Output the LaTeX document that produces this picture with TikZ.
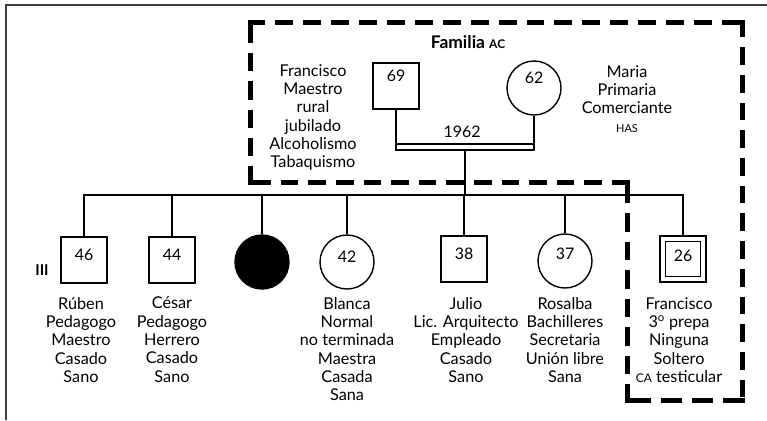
\documentclass[tikz,border=0pt]{standalone}
\usepackage{fontspec}
\setmainfont{Lato}
\usetikzlibrary{calc}
\begin{document}
\begin{tikzpicture}[x=1bp,y=-1bp,
  lw/.style={line width=1.4bp},
  male/.style={draw,lw,minimum size=46bp,inner sep=0pt},
  female/.style={draw,lw,circle,minimum size=54bp,inner sep=0pt},
  num/.style={font=\fontsize{16}{18}\selectfont,inner sep=0pt},
  lbl/.style={align=center,inner sep=0pt,anchor=north,font=\fontsize{16.3}{18.4}\selectfont},
  fam/.style={line width=5bp,line cap=rect}]
\useasboundingbox (0,0) rectangle (767,420);
\fill[white] (0,0) rectangle (767,420);
% frame
\draw[line width=1.6bp,black!75] (6,420) -- (6,5) -- (767,5);
% family box (dashed)
\draw[fam,dash pattern=on 12.9bp off 15bp] (250,22) -- (742,22);
\draw[fam,dash pattern=on 12.7bp off 15bp] (742,22) -- (742,400);
\draw[fam,dash pattern=on 16.25bp off 15bp] (742,400) -- (627,400);
\draw[fam,dash pattern=on 13.5bp off 15bp] (627,400) -- (627,182);
\draw[fam,dash pattern=on 12.6bp off 15bp] (627,182) -- (250,182);
\draw[fam,dash pattern=on 13.3bp off 15bp] (250,182) -- (250,22);
\node[font=\fontsize{17.5}{20}\selectfont\bfseries] (title) at (468,42) {Familia {\fontsize{12}{14}\selectfont AC}};
% parents
\node[male] (f) at (396,86) {};
\node[num,yshift=10bp] (fn) at (f.center) {69};
\node[female] (m) at (534,88) {};
\node[num,yshift=10bp] (mn) at (m.center) {62};
\node[lbl] (ft) at (313,64) {Francisco\\Maestro\\rural\\jubilado\\Alcoholismo\\Tabaquismo};
\node[lbl] (mt) at (627,65) {Maria\\Primaria\\Comerciante\\{\fontsize{11}{12}\selectfont HAS}};
\draw[lw] (f.south) -- (f.south |- 0,150) -- (m.south |- 0,150) -- (m.south);
\draw[lw] (f.south |- 0,144) -- (m.south |- 0,144);
\node[num] (yr) at (462,132) {1962};
\coordinate (mid) at ($(f.south |- 0,150)!0.5!(m.south |- 0,150)$);
% children
\node[male] (c1) at (84,260) {};
\node[male] (c2) at (172,260) {};
\node[female,fill=black] (c3) at (262,262) {};
\node[female] (c4) at (347,262) {};
\node[male] (c5) at (464,259) {};
\node[female] (c6) at (565,261) {};
\node[male] (c7) at (683,259) {};
\node[draw,lw,minimum size=35bp,inner sep=0pt] (c7i) at (c7.center) {};
\foreach \c/\n/\s in {c1/46/5,c2/44/5,c4/42/5,c5/38/5,c6/37/7,c7/26/3}
  \node[num,yshift=\s bp] (\c n) at (\c.center) {\n};
\coordinate (sib) at (0,195);
\draw[lw] (mid) -- (mid |- sib);
\draw[lw] (c1.north) -- (c1.north |- sib) -- (c7.north |- sib) -- (c7.north);
\foreach \c in {c2,c3,c4,c5,c6}
  \draw[lw] (\c.north) -- (\c.north |- sib);
\node[font=\fontsize{15}{17}\selectfont\bfseries] (gen) at (42,270) {III};
\node[lbl] (t1) at (81,297) {Rúben\\Pedagogo\\Maestro\\Casado\\Sano};
\node[lbl] (t2) at (172,297) {César\\Pedagogo\\Herrero\\Casado\\Sano};
\node[lbl] (t4) at (347,297) {Blanca\\Normal\\no terminada\\Maestra\\Casada\\Sana};
\node[lbl] (t5) at (466,297) {Julio\\Lic. Arquitecto\\Empleado\\Casado\\Sano};
\node[lbl] (t6) at (565,297) {Rosalba\\Bachilleres\\Secretaria\\Unión libre\\Sana};
\node[lbl] (t7) at (679,297) {Francisco\\3\textsuperscript{o} prepa\\Ninguna\\Soltero\\{\fontsize{12}{12}\selectfont CA} testicular};
\end{tikzpicture}
\end{document}
